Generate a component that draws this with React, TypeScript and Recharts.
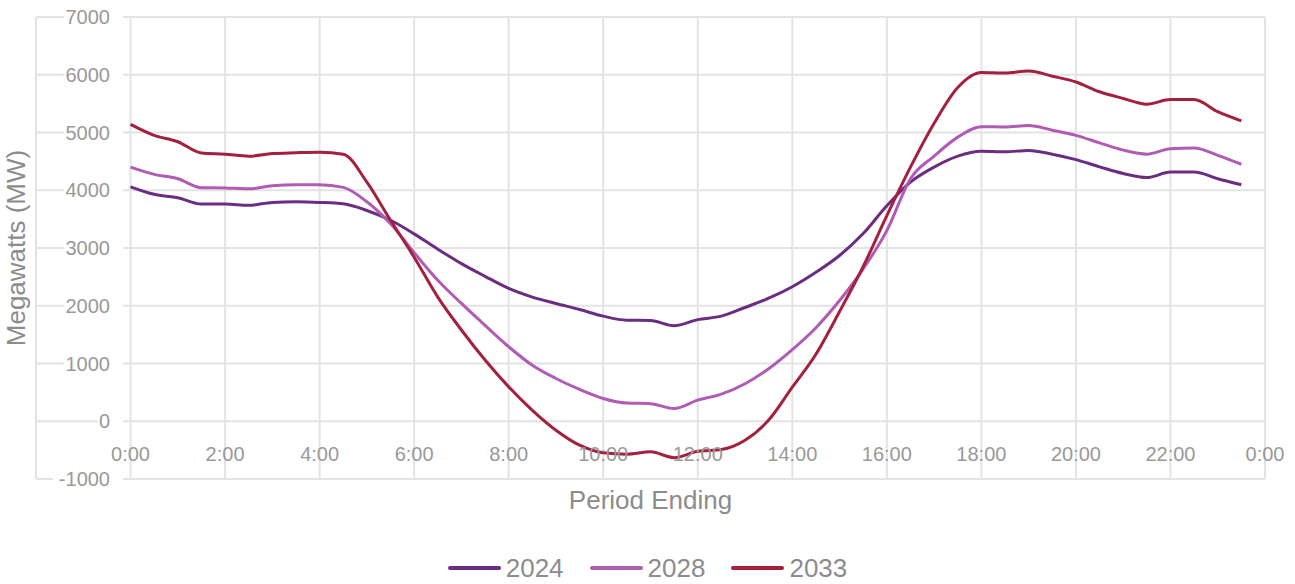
import React from 'react';
import { LineChart, Line, XAxis, YAxis, CartesianGrid, Legend } from 'recharts';

const hours: number[] = [
  0, 0.5, 1, 1.5, 2, 2.5, 3, 3.5, 4, 4.5, 5, 5.5, 6, 6.5, 7, 7.5, 8, 8.5, 9, 9.5, 10, 10.5, 11, 11.5,
  12, 12.5, 13, 13.5, 14, 14.5, 15, 15.5, 16, 16.5, 17, 17.5, 18, 18.5, 19, 19.5, 20, 20.5, 21, 21.5, 22, 22.5, 23, 23.5,
];

const load2024: number[] = [
  4060, 3930, 3870, 3760, 3760, 3740, 3790, 3800, 3790, 3765, 3650, 3480, 3245, 2980, 2730, 2510, 2300, 2150, 2040, 1935, 1820, 1750, 1745, 1655,
  1760, 1820, 1970, 2130, 2330, 2580, 2870, 3250, 3730, 4140, 4400, 4590, 4675, 4665, 4690, 4625, 4530, 4405, 4290, 4220, 4315, 4315, 4200, 4095,
];

const load2028: number[] = [
  4400, 4275, 4200, 4045, 4040, 4025, 4080, 4095, 4095, 4050, 3800, 3420, 2920, 2440, 2040, 1660, 1290, 970, 740, 550, 395, 315, 305, 220,
  365, 470, 650, 910, 1240, 1620, 2090, 2640, 3300, 4200, 4590, 4920, 5100, 5095, 5120, 5040, 4950, 4820, 4695, 4625, 4720, 4730, 4605, 4450,
];

const load2033: number[] = [
  5140, 4950, 4840, 4645, 4625, 4590, 4635, 4650, 4660, 4625, 4140, 3480, 2840, 2150, 1580, 1060, 595, 190, -155, -415, -545, -570, -530, -630,
  -520, -490, -330, 20, 590, 1160, 1900, 2680, 3560, 4400, 5160, 5780, 6040, 6030, 6065, 5975, 5875, 5705, 5590, 5490, 5570, 5570, 5360, 5200,
];

const xTicks: number[] = [-2, 0, 2, 4, 6, 8, 10, 12, 14, 16, 18, 20, 22, 24];
const yTicks: number[] = [-1000, 0, 1000, 2000, 3000, 4000, 5000, 6000, 7000];

const seriesNames = ['2024', '2028', '2033'];
const seriesColors = ['#6b2d82', '#b05cb4', '#a3203f'];

const data = hours.map((h, i) => ({
  h,
  '2024': load2024[i],
  '2028': load2028[i],
  '2033': load2033[i],
}));

const FONT = '"Liberation Sans", Arial, Helvetica, sans-serif';
const TICK_COLOR = '#999999';
const TITLE_COLOR = '#8c8c8c';

const fmtHour = (v: number) => `${v % 24}:00`;

const XTick = (props: any) => {
  const { x, y, payload } = props;
  if (payload.value < 0) return null;
  return (
    <text x={x} y={y - 26} textAnchor="middle" fontFamily={FONT} fontSize={20} fill={TICK_COLOR}>
      {fmtHour(payload.value)}
    </text>
  );
};

const YTick = (props: any) => {
  const { x, y, payload } = props;
  const label = String(payload.value);
  const right = x + 74;
  const w = label.length * 11.2;
  return (
    <g>
      <rect x={right - w - 1} y={y - 9} width={w + 14} height={18} fill="#ffffff" />
      <text x={right} y={y} dy="0.36em" textAnchor="end" fontFamily={FONT} fontSize={20} fill={TICK_COLOR}>
        {label}
      </text>
    </g>
  );
};

const LegendContent = () => (
  <div
    style={{
      display: 'flex',
      justifyContent: 'center',
      alignItems: 'center',
      fontFamily: FONT,
      fontSize: 26,
      color: TITLE_COLOR,
      lineHeight: '30px',
    }}
  >
    {seriesNames.map((n, i) => (
      <div key={n} style={{ display: 'flex', alignItems: 'center', marginLeft: i === 0 ? 0 : 26 }}>
        <span
          style={{
            display: 'inline-block',
            width: 53,
            height: 4,
            borderRadius: 2,
            background: seriesColors[i],
            marginRight: 5,
          }}
        />
        <span>{n}</span>
      </div>
    ))}
  </div>
);

export default function App() {
  return (
    <div style={{ position: 'absolute', left: 0, top: 0, width: 1295, height: 584, background: '#fff' }}>
      <LineChart width={1295} height={584} data={data} margin={{ top: 17, right: 30, left: 36, bottom: 75 }}>
        <CartesianGrid stroke="#e3e3e3" strokeWidth={2} />
        <XAxis
          dataKey="h"
          type="number"
          domain={[-2, 24]}
          ticks={xTicks}
          interval={0}
          height={30}
          axisLine={false}
          tickLine={false}
          tick={<XTick />}
          label={{
            value: 'Period Ending',
            position: 'insideBottom',
            offset: 0,
            style: { fontFamily: FONT, fontSize: 26, fill: TITLE_COLOR },
          }}
        />
        <YAxis
          type="number"
          domain={[-1000, 7000]}
          ticks={yTicks}
          interval={0}
          width={60}
          mirror={true}
          axisLine={false}
          tickLine={false}
          tickSize={0}
          tickMargin={0}
          tick={<YTick />}
          label={{
            value: 'Megawatts (MW)',
            angle: -90,
            position: 'insideLeft',
            offset: -20,
            style: { fontFamily: FONT, fontSize: 26, fill: TITLE_COLOR, textAnchor: 'middle' },
          }}
        />
        <Legend
          layout="horizontal"
          verticalAlign="middle"
          align="center"
          content={<LegendContent />}
          wrapperStyle={{ top: 553, left: 0, width: 1295 }}
        />
        {seriesNames.map((n, i) => (
          <Line
            key={n}
            type="monotone"
            dataKey={n}
            stroke={seriesColors[i]}
            strokeWidth={3}
            dot={false}
            activeDot={false}
            isAnimationActive={false}
          />
        ))}
      </LineChart>
    </div>
  );
}
